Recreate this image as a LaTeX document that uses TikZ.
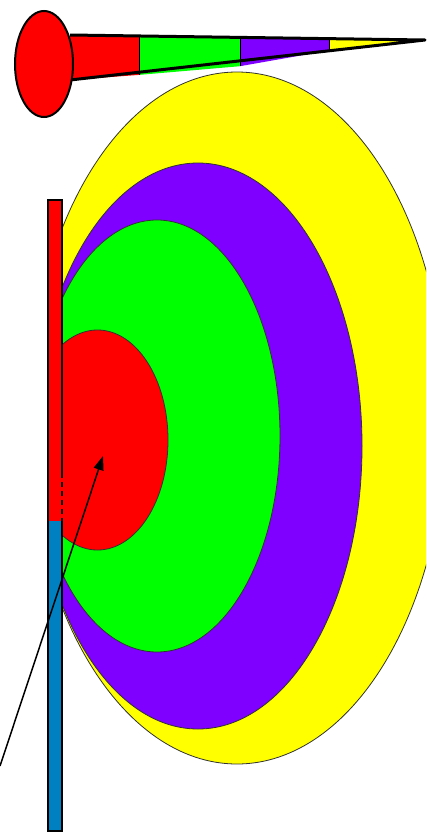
\documentclass[tikz,border=0pt]{standalone}
\usetikzlibrary{arrows.meta}
\definecolor{cred}{HTML}{FF0000}
\definecolor{cgreen}{HTML}{00FF00}
\definecolor{cpurple}{HTML}{8000FF}
\definecolor{cyellow}{HTML}{FFFF00}
\definecolor{cblue}{HTML}{0080C0}
\tikzset{
  zone/.style={draw=black!80, line width=0.8pt},
  barline/.style={draw=black, line width=2pt},
  wedgeline/.style={draw=black, line width=3pt, line join=round},
}
\begin{document}
\begin{tikzpicture}[x=1pt,y=-1pt]
\useasboundingbox (0,0) rectangle (426,833);
% nested zones, clipped at the bar
\begin{scope}
  \clip (62,0) rectangle (426,833);
  \fill[cyellow, zone] (237,418) ellipse [x radius=209, y radius=346];
  \fill[cpurple, zone] (198,446) ellipse [x radius=164, y radius=283];
  \fill[cgreen, zone] (157,436) ellipse [x radius=123, y radius=216];
  \fill[cred, zone] (97.5,440) ellipse [x radius=70.5, y radius=110];
\end{scope}
% bar
\fill[cred] (48,200) rectangle (62,521);
\fill[cblue] (48,521) rectangle (62,831);
\draw[barline] (62,473) -- (62,200) -- (48,200) -- (48,831) -- (62,831) -- (62,520);
\draw[black, line width=2pt, dash pattern=on 5pt off 4pt] (62,473) -- (62,520);
% top wedge
\coordinate (wtl) at (70,35);
\coordinate (wbl) at (70,80);
\coordinate (tip) at (425,40);
\fill[cred] (wtl) -- (139,35.9) -- (139,74.9) -- (wbl) -- cycle;
\fill[cgreen] (139,35.9) -- (240,37.4) -- (240,66.2) -- (139,74.9) -- cycle;
\fill[cpurple] (240,37.4) -- (329,38.6) -- (329,50.5) -- (240,66.2) -- cycle;
\fill[cyellow] (329,38.6) -- (tip) -- (329,50.5) -- cycle;
\draw[wedgeline] (wbl) -- (tip) -- (wtl);
\draw[black, line width=0.6pt] (139,35.9) -- (139,74.9) (240,37.4) -- (240,66.2) (329,38.6) -- (329,50.5);
% top disc
\fill[cred, draw=black, line width=2pt] (44,64) ellipse [x radius=29, y radius=53];
% arrow
\coordinate (astart) at (0,766);
\coordinate (aend) at (103,456);
\draw[-{Triangle[length=14pt,width=10pt]}, line width=1.5pt] (astart) -- (aend);
\end{tikzpicture}
\end{document}
